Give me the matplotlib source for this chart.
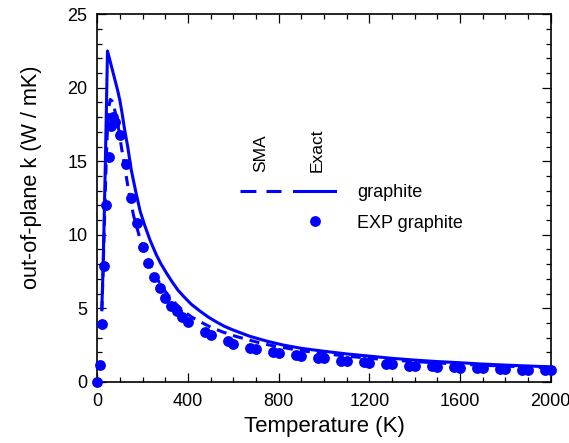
import matplotlib
matplotlib.use("Agg")
import matplotlib.pyplot as plt
from matplotlib.lines import Line2D
from matplotlib.legend_handler import HandlerTuple
from matplotlib.ticker import MultipleLocator

plt.rcParams["font.family"] = ["Liberation Sans", "DejaVu Sans"]

BLUE = "#0000ff"

# Exact solution of the out-of-plane conductivity
exact_T = [20, 25, 30, 35, 40, 45, 50, 60, 70, 80, 90, 100, 110, 120, 134,
           150, 170, 189, 210, 233, 260, 280, 307, 330, 355, 380, 415, 454,
           490, 527, 560, 600, 674, 750, 821, 900, 1000, 1100, 1200, 1300,
           1400, 1500, 1600, 1700, 1800, 1900, 2000]
exact_k = [5.0, 7.5, 10.8, 14.5, 18.5, 22.5, 22.2, 21.6, 21.0, 20.4, 19.8,
           19.1, 18.2, 17.2, 16.0, 14.4, 12.9, 11.6, 10.6, 9.62, 8.65, 8.04,
           7.35, 6.8, 6.25, 5.82, 5.27, 4.8, 4.4, 4.06, 3.78, 3.52, 3.09,
           2.76, 2.5, 2.28, 2.08, 1.9, 1.75, 1.6, 1.48, 1.38, 1.3, 1.21, 1.14,
           1.08, 1.02]

# Single-mode relaxation time approximation
sma_T = [20, 25, 30, 35, 40, 45, 50, 57, 65, 75, 90, 108, 120, 138, 160, 189,
         210, 233, 260, 290, 320, 350, 380, 415, 454, 500, 555, 610, 661, 720,
         767, 850, 900, 1000, 1100, 1200, 1300, 1400, 1500, 1600, 1700, 1800,
         1900, 2000]
sma_k = [4.8, 7.2, 10.0, 12.8, 15.3, 17.3, 18.6, 19.2, 19.1, 18.6, 17.6,
         15.8, 14.7, 13.0, 11.3, 9.7, 8.8, 7.95, 7.1, 6.35, 5.75, 5.25, 4.82,
         4.42, 4.08, 3.72, 3.38, 3.1, 2.88, 2.64, 2.48, 2.25, 2.12, 1.92,
         1.75, 1.6, 1.48, 1.38, 1.29, 1.2, 1.13, 1.07, 1.01, 0.96]

# Measured values for graphite
exp_T = [0, 10, 20, 30, 40, 50, 60, 70, 80, 100, 125, 150, 175, 200, 225,
         250, 275, 300, 325, 350, 375, 400, 475, 500, 575, 600, 675, 700,
         775, 800, 875, 900, 975, 1000, 1075, 1100, 1175, 1200, 1275, 1300,
         1375, 1400, 1475, 1500, 1575, 1600, 1675, 1700, 1775, 1800, 1875,
         1900, 1975, 2000]
exp_k = [0.0, 1.13, 3.95, 7.9, 12.0, 15.3, 17.4, 18.0, 17.7, 16.8, 14.8,
         12.5, 10.8, 9.2, 8.1, 7.1, 6.35, 5.7, 5.15, 4.8, 4.4, 4.1, 3.4, 3.2,
         2.8, 2.6, 2.3, 2.25, 2.02, 1.98, 1.82, 1.76, 1.63, 1.6, 1.45, 1.42,
         1.33, 1.3, 1.21, 1.19, 1.11, 1.09, 1.05, 1.03, 0.98, 0.96, 0.93,
         0.92, 0.89, 0.87, 0.83, 0.82, 0.81, 0.8]

fig = plt.figure(figsize=(5.69, 4.43), dpi=100)
ax = fig.add_axes([0.171, 0.138, 0.797, 0.830])

ax.plot(sma_T, sma_k, color=BLUE, lw=2.2, linestyle=(0, (3.3, 2.3)))
ax.plot(exact_T, exact_k, color=BLUE, lw=2.2)
ax.plot(exp_T, exp_k, "o", color=BLUE, ms=7.8, mew=0, clip_on=False,
        zorder=3)

ax.set_xlim(0, 2000)
ax.set_ylim(0, 25)
ax.xaxis.set_major_locator(MultipleLocator(400))
ax.xaxis.set_minor_locator(MultipleLocator(100))
ax.yaxis.set_major_locator(MultipleLocator(5))
ax.yaxis.set_minor_locator(MultipleLocator(1))
ax.tick_params(which="both", direction="in", top=True, right=True,
               width=0.9, labelsize=13)
ax.tick_params(which="major", length=6.5)
ax.tick_params(axis="x", which="both", pad=8)
ax.tick_params(axis="y", which="both", pad=7)
ax.tick_params(which="minor", length=3.6)
for s in ax.spines.values():
    s.set_linewidth(1.2)

ax.set_xlabel("Temperature (K)", fontsize=16, labelpad=4)
ax.set_ylabel("out-of-plane k (W / mK)", fontsize=15.6)
ax.yaxis.set_label_coords(-0.123, 0.557)

# legend: dashed + solid sample on one row, marker under the solid one
h_sma = Line2D([], [], color=BLUE, lw=2.2, linestyle=(0, (5.2, 3.3)))
h_exact = Line2D([], [], color=BLUE, lw=2.2)
h_blank = Line2D([], [], linestyle="none")
h_exp = Line2D([], [], marker="o", color=BLUE, ms=7.8, mew=0,
               linestyle="none")
ax.legend([(h_sma, h_exact), (h_blank, h_exp)],
          ["graphite", "EXP graphite"],
          handler_map={tuple: HandlerTuple(ndivide=None, pad=0.72)},
          handlelength=5.26, handletextpad=1.22, labelspacing=0.75,
          frameon=False, fontsize=13, borderpad=0, borderaxespad=0,
          loc="center left", bbox_to_anchor=(0.315, 0.473))
ax.text(0.361, 0.571, "SMA", rotation=90, ha="center", va="bottom",
        fontsize=12.5, transform=ax.transAxes)
ax.text(0.485, 0.571, "Exact", rotation=90, ha="center", va="bottom",
        fontsize=12.5, transform=ax.transAxes)

fig.savefig("out.png", dpi=100)
